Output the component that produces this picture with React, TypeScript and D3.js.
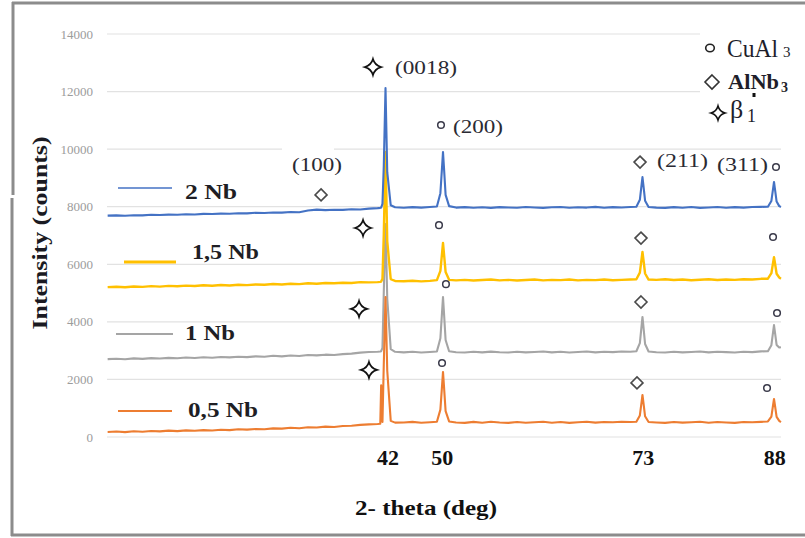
import React from 'react';
import * as d3 from 'd3';

// 2-theta grid (deg) shared by all four patterns
const twoTheta = [
  11.5, 12.5, 13.5, 14.5, 15.5, 16.5, 17.5, 18.5, 19.5, 20.5, 21.5, 22.5, 23.5, 24.5, 25.5, 26.5,
  27.5, 28.5, 29.5, 30.5, 31.5, 32.5, 33.5, 34.5, 35.5, 36.5, 37.5, 38.5, 39.5, 40.5, 41.5,
  42.5, 42.8, 42.9, 43.05, 43.2, 43.4, 43.6, 44.0, 44.5,
  45.5, 46.5, 47.5, 48.5,
  49.3, 49.7, 49.9, 50.0, 50.1, 50.3, 50.7,
  51.5, 52.5, 53.5, 54.5, 55.5, 56.5, 57.5, 58.5, 59.5, 60.5, 61.5, 62.5, 63.5, 64.5, 65.5, 66.5,
  67.5, 68.5, 69.5, 70.5, 71.5,
  72.2, 72.6, 72.8, 72.9, 73.0, 73.2, 73.6,
  74.5, 75.5, 76.5, 77.5, 78.5, 79.5, 80.5, 81.5, 82.5, 83.5, 84.5, 85.5, 86.5,
  87.3, 87.7, 87.9, 88.0, 88.1, 88.3, 88.6, 88.8,
];

// intensity (counts), one array per sample
const nb2 = [
  7690, 7700, 7685, 7705, 7700, 7720, 7710, 7725, 7720, 7740, 7730, 7750, 7745, 7760, 7755, 7775,
  7770, 7790, 7780, 7800, 7795, 7815, 7810, 7870, 7900, 7880, 7895, 7890, 7910, 7905, 7935,
  7950, 7960, 7970, 8100, 9400, 12120, 9200, 8050, 7980,
  7965, 7985, 7970, 7990,
  8010, 8470, 9420, 9900, 9420, 8410, 8020,
  7970, 7985, 7965, 7980, 7960, 7985, 7975, 7965, 7990, 7975, 7960, 7980, 7990, 7965, 7980, 7970,
  7995, 7965, 7985, 7975, 7990,
  8000, 8240, 8770, 9030, 8770, 8210, 7990,
  7970, 7960, 7985, 7965, 7990, 7960, 7975, 7990, 7965, 7985, 7970, 7990, 7995,
  8000, 8200, 8640, 8860, 8640, 8180, 8020, 7990,
];
const nb15 = [
  5205, 5220, 5200, 5230, 5215, 5240, 5225, 5250, 5235, 5260, 5245, 5270, 5255, 5280, 5265, 5290,
  5275, 5300, 5290, 5315, 5300, 5325, 5310, 5340, 5325, 5350, 5340, 5360, 5350, 5380, 5370,
  5380, 5390, 5400, 5500, 7000, 9900, 6800, 5480, 5420,
  5410, 5430, 5405, 5425,
  5450, 5770, 6410, 6740, 6410, 5730, 5460,
  5440, 5460, 5435, 5455, 5470, 5440, 5460, 5435, 5455, 5470, 5440, 5460, 5450, 5470, 5440, 5460,
  5450, 5470, 5445, 5460, 5470,
  5480, 5710, 6190, 6430, 6190, 5680, 5470,
  5460, 5480, 5455, 5470, 5445, 5465, 5480, 5455, 5470, 5460, 5480, 5470, 5495,
  5500, 5690, 6060, 6250, 6060, 5670, 5540, 5500,
];
const nb1 = [
  2705, 2720, 2700, 2730, 2715, 2740, 2725, 2750, 2735, 2760, 2745, 2770, 2755, 2780, 2765, 2790,
  2775, 2800, 2790, 2820, 2800, 2830, 2815, 2850, 2835, 2860, 2850, 2880, 2895, 2930, 2955,
  2960, 2970, 2980, 3100, 5000, 7400, 4800, 3050, 2960,
  2940, 2960, 2935, 2955,
  2970, 3430, 4380, 4860, 4380, 3370, 2980,
  2945, 2935, 2960, 2940, 2965, 2945, 2935, 2960, 2940, 2955, 2970, 2940, 2960, 2935, 2955, 2970,
  2940, 2960, 2950, 2970, 2960,
  2980, 3260, 3870, 4170, 3870, 3230, 2970,
  2945, 2935, 2960, 2940, 2955, 2970, 2940, 2960, 2950, 2935, 2960, 2950, 2975,
  2980, 3190, 3660, 3890, 3660, 3200, 3110, 3120,
];
const nb05 = [
  175, 190, 170, 200, 185, 210, 195, 220, 205, 230, 215, 240, 225, 250, 240, 270,
  255, 280, 270, 300, 290, 320, 305, 340, 330, 360, 350, 380, 390, 420, 440,
  450, 460, 1800, 520, 2500, 4860, 2300, 560, 500,
  505, 525, 495, 515,
  530, 950, 1820, 2260, 1820, 900, 540,
  505, 490, 525, 495, 530, 505, 490, 520, 495, 515, 530, 495, 520, 490, 515, 530,
  500, 520, 510, 530, 520,
  530, 750, 1220, 1460, 1220, 720, 520,
  505, 490, 520, 500, 515, 530, 495, 520, 505, 490, 520, 510, 525,
  540, 710, 1120, 1320, 1120, 700, 560, 520,
];

const seriesNames = ['2 Nb', '1,5 Nb', '1 Nb', '0,5 Nb'];
const seriesData = [nb2, nb15, nb1, nb05];
const seriesColors = ['#4472C4', '#FFC000', '#A5A5A5', '#ED7D31'];

const yTicks = [0, 2000, 4000, 6000, 8000, 10000, 12000, 14000];
const xTickLabels = ['42', '50', '73', '88'];
const xTickAt = [43.7, 49.9, 73.0, 88.1];

// phase markers [2-theta, counts]
const betaMarks = [[41.96, 12850], [40.82, 7260], [40.36, 4450], [41.5, 2330]];
const cuAl3Marks = [[49.77, 10840], [49.54, 7360], [50.34, 5310], [49.89, 2570],
  [88.23, 9380], [87.89, 6950], [88.35, 4310], [87.2, 1700]];
const alNb3Marks = [[36.0, 8410], [72.62, 9550], [72.73, 6910], [72.73, 4690], [72.27, 1880]];

// plane indices, placed at [2-theta of left edge, counts]
const hklLabels = ['(0018)', '(200)', '(100)', '(211)', '(311)'];
const hklAt = [[44.49, 12820], [51.15, 10770], [32.66, 9450], [74.57, 9620], [81.46, 9450]];
const hklWidth = [62, 50, 50, 51, 51];

const serif = 'Liberation Serif, Times New Roman, Times, serif';

const sparkle = (r: number) => {
  const k = r * 0.22;
  return `M0,${-r} Q${k},${-k} ${r},0 Q${k},${k} 0,${r} Q${-k},${k} ${-r},0 Q${-k},${-k} 0,${-r} Z`;
};
const diamond = (r: number) => `M0,${-r} L${r},0 L0,${r} L${-r},0 Z`;

const App = () => {
  const width = 805, height = 538;
  const plotLeft = 107, plotRight = 781;

  const x = d3.scaleLinear().domain([50, 88]).range([443, 774]);
  const y = d3.scaleLinear().domain([0, 14000]).range([437, 34]);

  const line = (vals: number[]) =>
    d3.line<number>()
      .x((_, i) => x(twoTheta[i]))
      .y(d => y(d))(vals) || '';

  // draw order: gray, orange, yellow, blue on top
  const drawOrder = [2, 3, 1, 0];

  const legendRows = [
    { line: [118, 172, 188], w: 1.6, tx: 185, ty: 199, tl: 52 },
    { line: [124, 176, 262], w: 3, tx: 192, ty: 259, tl: 67 },
    { line: [116, 173, 334], w: 2, tx: 185, ty: 340, tl: 50 },
    { line: [118, 172, 411], w: 2, tx: 188, ty: 417, tl: 70 },
  ];

  const txt = { fontFamily: serif };

  return (
    <svg width={width} height={height} style={{ position: 'absolute', left: 0, top: 0, background: '#fff' }}>
      <rect x={0} y={0} width={width} height={height} fill="#fff" />

      {/* gridlines */}
      {yTicks.map(t => (
        <line key={t} x1={plotLeft} x2={plotRight} y1={y(t)} y2={y(t)} stroke="#e2e2e2" strokeWidth={1.2} />
      ))}
      {yTicks.map(t => (
        <text key={'l' + t} x={93} y={y(t) + 4.5} textAnchor="end" fontSize={13} fill="#9c9c9c" style={txt}>{t}</text>
      ))}

      {/* text boxes hiding the grid */}
      <rect x={700} y={22} width={105} height={108} fill="#fff" />
      <rect x={282} y={146} width={52} height={34} fill="#fff" />

      {/* patterns */}
      {drawOrder.map(i => (
        <path key={seriesNames[i]} d={line(seriesData[i])} fill="none" stroke={seriesColors[i]}
          strokeWidth={i === 1 ? 2.4 : 2.1} strokeLinejoin="round" />
      ))}

      {/* series legend */}
      {legendRows.map((r, i) => (
        <g key={seriesNames[i]}>
          <line x1={r.line[0]} x2={r.line[1]} y1={r.line[2]} y2={r.line[2]} stroke={seriesColors[i]} strokeWidth={r.w} />
          <text x={r.tx} y={r.ty} fontSize={22} fontWeight="bold" fill="#1e1e24" textLength={r.tl}
            lengthAdjust="spacingAndGlyphs" style={txt}>{seriesNames[i]}</text>
        </g>
      ))}

      {/* phase markers */}
      {betaMarks.map((m, i) => (
        <path key={'b' + i} d={sparkle(8)} transform={`translate(${x(m[0])},${y(m[1])})`}
          fill="#fff" stroke="#111" strokeWidth={1.7} />
      ))}
      {cuAl3Marks.map((m, i) => (
        <circle key={'c' + i} cx={x(m[0])} cy={y(m[1])} r={3.3} fill="#fff" stroke="#3a3a4a" strokeWidth={1.5} />
      ))}
      {alNb3Marks.map((m, i) => (
        <path key={'a' + i} d={diamond(6)} transform={`translate(${x(m[0])},${y(m[1])})`}
          fill="#fff" stroke="#4a4a4a" strokeWidth={1.6} />
      ))}

      {/* plane labels */}
      {hklLabels.map((s, i) => (
        <text key={s} x={x(hklAt[i][0])} y={y(hklAt[i][1]) + 6.5} fontSize={19} fill="#2a2a33"
          textLength={hklWidth[i]} lengthAdjust="spacingAndGlyphs" style={txt}>{s}</text>
      ))}

      {/* phase legend */}
      <ellipse cx={710} cy={48} rx={4.3} ry={3.8} fill="#fff" stroke="#222" strokeWidth={1.6} />
      <text x={727} y={57} fontSize={26} fill="#1e1e2a" textLength={51} lengthAdjust="spacingAndGlyphs" style={txt}>CuAl</text>
      <text x={783} y={57} fontSize={15} fill="#1e1e2a" style={txt}>3</text>
      <path d={diamond(7)} transform="translate(712,82)" fill="#fff" stroke="#333" strokeWidth={1.6} />
      <text x={728} y={89} fontSize={22} fontWeight="bold" fill="#1e1e2a" textLength={51}
        lengthAdjust="spacingAndGlyphs" style={txt}>AlNb</text>
      <text x={781} y={92} fontSize={14} fontWeight="bold" fill="#1e1e2a" style={txt}>3</text>
      <path d={sparkle(7)} transform="translate(718,113)" fill="#fff" stroke="#111" strokeWidth={1.6} />
      <text x={730} y={118} fontSize={26} fill="#1e1e2a" style={txt}>β</text>
      <text x={747} y={122} fontSize={18} fill="#1e1e2a" style={txt}>1</text>
      <rect x={752.5} y={93} width={3} height={4} fill="#111" />

      {/* x labels */}
      {xTickLabels.map((s, i) => (
        <text key={s} x={x(xTickAt[i])} y={465} textAnchor="middle" fontSize={22} fontWeight="bold" fill="#111" style={txt}>{s}</text>
      ))}
      <text x={426} y={515} textAnchor="middle" fontSize={22} fontWeight="bold" fill="#111"
        textLength={142} lengthAdjust="spacingAndGlyphs" style={txt}>2- theta (deg)</text>

      {/* y title */}
      <text transform="translate(47,233) rotate(-90)" textAnchor="middle" fontSize={22} fontWeight="bold"
        fill="#1a1a22" textLength={193} lengthAdjust="spacingAndGlyphs" style={txt}>Intensity (counts)</text>

      {/* frame */}
      <line x1={12} x2={805} y1={3} y2={3} stroke="#8c8c8c" strokeWidth={3} />
      <line x1={13} x2={13} y1={2} y2={195} stroke="#8c8c8c" strokeWidth={3} />
      <line x1={12} x2={12} y1={198} y2={536} stroke="#8c8c8c" strokeWidth={3} />
      <line x1={11} x2={805} y1={535} y2={535} stroke="#8c8c8c" strokeWidth={3} />
    </svg>
  );
};

export default App;
